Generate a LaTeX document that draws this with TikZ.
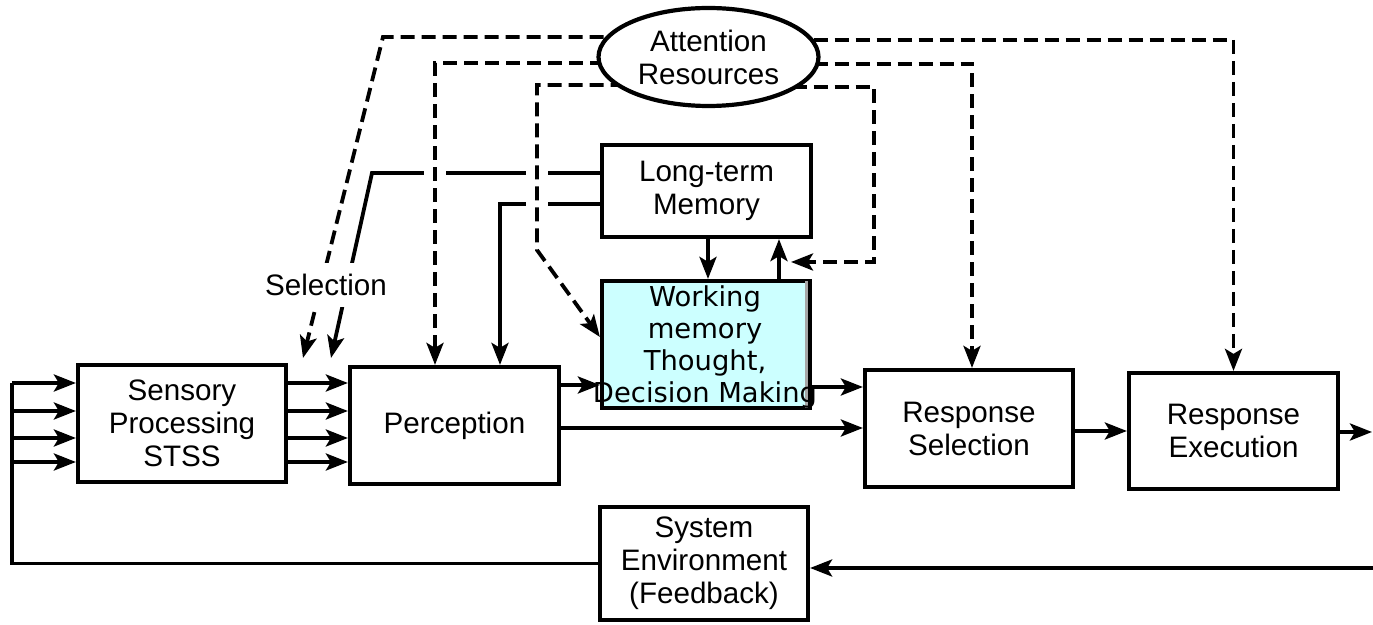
\documentclass[tikz,border=0pt]{standalone}
\usepackage{fontspec}
\setmainfont{Liberation Sans}
\newfontfamily\dejavu{DejaVu Sans}
\usetikzlibrary{arrows.meta,shapes.geometric,backgrounds}
\definecolor{wmcyan}{RGB}{204,255,255}
\begin{document}
\begin{tikzpicture}[x=0.5pt,y=-0.5pt,
  box/.style={draw, line width=2.1pt, fill=white, align=center, inner sep=0pt,
    font=\fontsize{14.8}{16.5}\selectfont},
  conn/.style={line width=1.9pt},
  arr/.style={conn, -{Stealth[length=11pt,width=8.5pt,inset=2.5pt]}},
  darr/.style={arr, dash pattern=on 7pt off 3.5pt},
  wmtext/.style={align=center, inner sep=0pt, font=\dejavu\fontsize{13.7}{16}\selectfont},
  lbl/.style={fill=white, inner xsep=1pt, inner ysep=5.5pt, font=\fontsize{14.8}{16.5}\selectfont}
]
\useasboundingbox (0,0) rectangle (1373,625);

% nodes
\node[box, minimum width=104pt, minimum height=58.5pt] (sens) at (182,423.5) {Sensory\\Processing\\STSS};
\node[box, minimum width=104.5pt, minimum height=58.5pt] (perc) at (454.5,425.5) {Perception};
\node[box, minimum width=104.5pt, minimum height=46pt] (ltm) at (706.5,191) {Long-term\\Memory};
\node[box, fill=wmcyan, minimum width=104pt, minimum height=63.5pt] (wm) at (706,344.5) {};
\draw[black!35, line width=1.5pt] ([xshift=-2.6pt,yshift=-1.1pt]wm.north east) -- ([xshift=-2.6pt,yshift=1.1pt]wm.south east);
\node[wmtext] (wmt) at (705,347) {Working\\memory\\Thought,\\Decision Making};
\node[box, minimum width=104pt, minimum height=58.5pt] (rs) at (969,428.5) {Response\\Selection};
\node[box, minimum width=104.5pt, minimum height=58pt] (re) at (1233.5,431) {Response\\Execution};
\node[box, minimum width=104pt, minimum height=56.5pt] (env) at (704,563.5) {System\\Environment\\(Feedback)};
\node[box, ellipse, minimum width=110pt, minimum height=49pt] (att) at (708.5,57) {Attention\\Resources};
\node[lbl] (sel) at (326,285) {Selection};

\coordinate (in1) at (12,383);
\coordinate (in2) at (12,411);
\coordinate (in3) at (12,438);
\coordinate (in4) at (12,462);
\coordinate (outR) at (1372,432);
\coordinate (fbR) at (1373,568);
\coordinate (selD) at (303,358);
\coordinate (selS) at (331,358);
\coordinate (ltmfb) at (791,262);

\begin{pgfonlayer}{background}
% feedback loop and inputs
\draw[conn] (env.west) -| (in1);
\foreach \c in {in1,in2,in3,in4} {
  \draw[arr] (\c) -- (sens.west |- \c);
  \draw[arr] (sens.east |- \c) -- (perc.west |- \c);
}
\draw[arr] (fbR) -- (env.east |- fbR);
% main flow
\draw[arr] (perc.east |- 0,385) -- (wm.west |- 0,385);
\draw[arr] (wm.east |- 0,387) -- (rs.west |- 0,387);
\draw[arr] (perc.east |- 0,428) -- (rs.west |- 0,428);
\draw[arr] (rs.east |- 0,431) -- (re.west |- 0,431);
\draw[arr] (re.east |- outR) -- (outR);
% LTM <-> WM
\draw[arr] (ltm.south -| 708,0) -- (wm.north -| 708,0);
\draw[arr] (wm.north -| 779,0) -- (ltm.south -| 779,0);
% LTM to selection and perception
\draw[arr] (ltm.west |- 0,173) -- (372,173) -- (selS);
\draw[arr] (ltm.west |- 0,204) -| (perc.north -| 500,0);
% gaps where dashed lines cross
\fill[white] (424,165) rectangle (446,181);
\fill[white] (526,165) rectangle (548,181);
\fill[white] (526,196) rectangle (548,212);
% attention resources (dashed)
\draw[darr] (att.center |- 0,37) -- (383,37) -- (selD);
\draw[darr] (att.center |- 0,63) -| (perc.north -| 435,0);
\draw[darr] (att.center |- 0,85) -- (537,85) -- (537,250) -- (wm.west |- 0,337);
\draw[darr] (att.center |- 0,40) -| (re.north);
\draw[darr] (att.center |- 0,64) -| (rs.north -| 972,0);
\draw[darr] (att.center |- 0,87) -- (874,87) -- (874,262) -- (ltmfb);
\end{pgfonlayer}
\end{tikzpicture}
\end{document}
